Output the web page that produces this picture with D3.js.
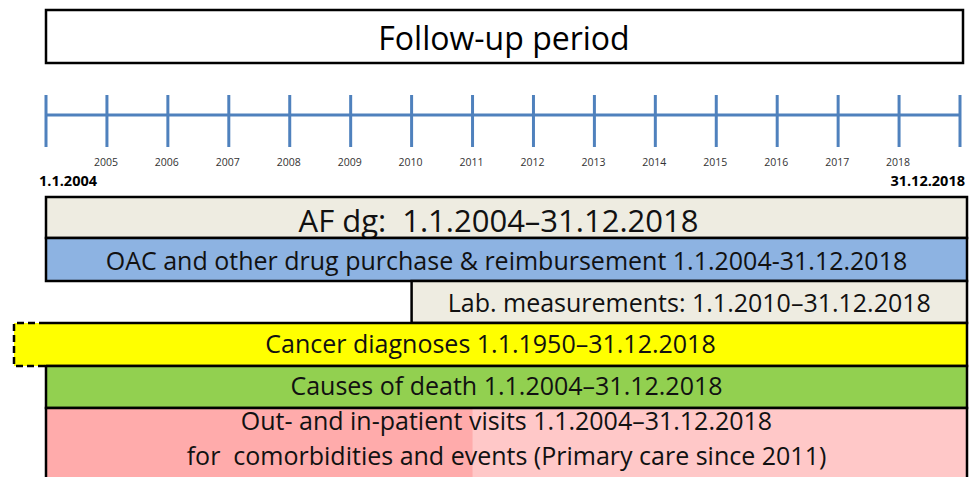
<!DOCTYPE html>
<html>
<head>
<meta charset="utf-8">
<script src="https://cdn.jsdelivr.net/npm/d3@7"></script>
<style>
  body { margin: 0; background: #fff; }
  svg { display: block; font-family: "Open Sans", sans-serif; }
  text { white-space: pre; }
</style>
</head>
<body>
<svg width="973" height="477"></svg>
<script>
// timeline years (tick at 1 Jan of each year, last tick = end of 2018)
var years = d3.range(2004, 2020);
var yearLabels = ["2005", "2006", "2007", "2008", "2009", "2010", "2011",
  "2012", "2013", "2014", "2015", "2016", "2017", "2018"];
var periodStart = "1.1.2004", periodEnd = "31.12.2018";

// data sources: label, first year, last year
var barLabels = [
  ["AF dg:  1.1.2004\u201331.12.2018"],
  ["OAC and other drug purchase & reimbursement 1.1.2004-31.12.2018"],
  ["Lab. measurements: 1.1.2010\u201331.12.2018"],
  ["Cancer diagnoses 1.1.1950\u201331.12.2018"],
  ["Causes of death 1.1.2004\u201331.12.2018"],
  ["Out- and in-patient visits 1.1.2004\u201331.12.2018",
   "for  comorbidities and events (Primary care since 2011)"]
];
var barStart = [2004, 2004, 2010, 1950, 2004, 2004];
var barEnd = [2018, 2018, 2018, 2018, 2018, 2018];
var primaryCareFrom = 2011;

var svg = d3.select("svg");

var x = d3.scaleLinear()
  .domain([2004, 2019])
  .range([46, 960]);

var fills = ["#eeece1", "#8db3e2", "#eeece1", "#ffff00", "#92d050", "#ffabab"];
var fontSizes = [31, 25, 25, 25, 25, 25];
var rowTop = [197, 238, 281, 323, 366, 408];
var rowH = [41, 43, 42, 43, 42, 72];
var baseOff = [[35], [32], [31], [30], [29], [22, 57]];

// title box
svg.append("rect")
  .attr("x", 46).attr("y", 10)
  .attr("width", 917).attr("height", 53)
  .attr("fill", "#fff").attr("stroke", "#000").attr("stroke-width", 2.5);
svg.append("text")
  .attr("x", 504).attr("y", 50)
  .attr("text-anchor", "middle")
  .style("font-size", "32px")
  .text("Follow-up period");

// timeline
var blue = "#4f81bd";
svg.append("line")
  .attr("x1", x(2004)).attr("x2", x(2019))
  .attr("y1", 115).attr("y2", 115)
  .attr("stroke", blue).attr("stroke-width", 3);
svg.selectAll(".tick")
  .data(years)
  .enter().append("line")
  .attr("class", "tick")
  .attr("x1", function(d) { return x(d); })
  .attr("x2", function(d) { return x(d); })
  .attr("y1", 95).attr("y2", 147)
  .attr("stroke", blue).attr("stroke-width", 3);
svg.selectAll(".ylab")
  .data(yearLabels)
  .enter().append("text")
  .attr("class", "ylab")
  .attr("x", function(d) { return x(+d) - 1; })
  .attr("y", 166)
  .attr("text-anchor", "middle")
  .style("font-size", "10.5px")
  .attr("fill", "#333")
  .text(function(d) { return d; });
svg.append("text")
  .attr("x", 39).attr("y", 186)
  .style("font-size", "14.5px").style("font-weight", "bold")
  .text(periodStart);
svg.append("text")
  .attr("x", 965).attr("y", 186)
  .attr("text-anchor", "end")
  .style("font-size", "14.5px").style("font-weight", "bold")
  .text(periodEnd);

// bars
var right = x(2019) + 7;
barLabels.forEach(function(lines, i) {
  var x0 = x(Math.max(barStart[i], 2004));
  var x1 = barEnd[i] === 2018 ? right : x(barEnd[i] + 1);
  var y0 = rowTop[i], h = rowH[i];
  var g = svg.append("g");
  var left = x0;

  if (barStart[i] < 2004) {
    // earlier data: dashed extension to the left
    var ext = 32;
    left = x0 - ext;
    g.append("rect")
      .attr("x", left).attr("y", y0)
      .attr("width", ext + 2).attr("height", h)
      .attr("fill", fills[i]);
    g.append("path")
      .attr("d", "M" + x0 + "," + y0 + "H" + left + "V" + (y0 + h) + "H" + x0)
      .attr("fill", "none").attr("stroke", "#000")
      .attr("stroke-width", 2.5).attr("stroke-dasharray", "7,4");
  }

  g.append("rect")
    .attr("x", x0).attr("y", y0)
    .attr("width", x1 - x0).attr("height", h)
    .attr("fill", fills[i]);

  if (i === barLabels.length - 1) {
    // lighter shade once primary care is included
    g.append("rect")
      .attr("x", x(primaryCareFrom)).attr("y", y0)
      .attr("width", x1 - x(primaryCareFrom)).attr("height", h)
      .attr("fill", "#ffc8c8");
  }

  if (barStart[i] < 2004) {
    g.append("path")
      .attr("d", "M" + x0 + "," + y0 + "H" + x1 + "V" + (y0 + h) + "H" + x0)
      .attr("fill", "none").attr("stroke", "#000").attr("stroke-width", 2.5);
  } else {
    g.append("rect")
      .attr("x", x0).attr("y", y0)
      .attr("width", x1 - x0).attr("height", h)
      .attr("fill", "none").attr("stroke", "#000").attr("stroke-width", 2.5);
  }

  var cx = (left + x1) / 2;
  if (i === 0) cx -= 8;
  lines.forEach(function(t, j) {
    g.append("text")
      .attr("x", cx).attr("y", y0 + baseOff[i][j])
      .attr("text-anchor", "middle")
      .style("font-size", fontSizes[i] + "px")
      .attr("fill", "#111")
      .text(t);
  });
});
</script>
</body>
</html>
